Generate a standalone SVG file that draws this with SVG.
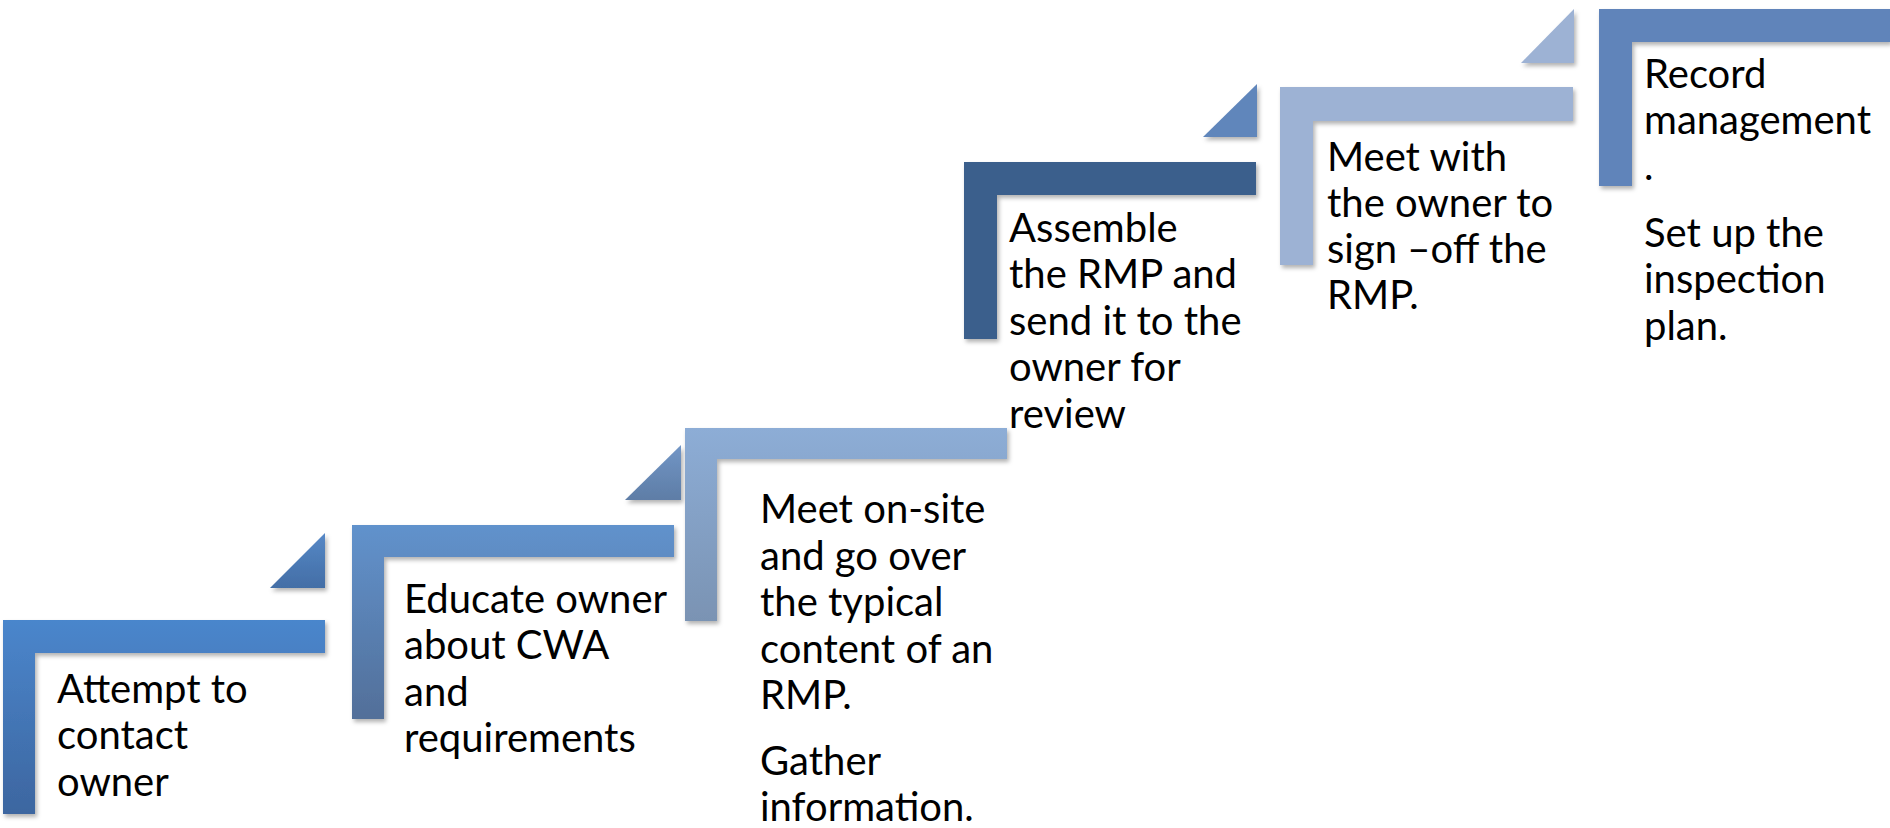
<svg xmlns="http://www.w3.org/2000/svg" width="1890" height="828" viewBox="0 0 1890 828">
<defs>
<filter id="sh" x="-10%" y="-10%" width="130%" height="130%">
<feDropShadow dx="2" dy="3" stdDeviation="2" flood-color="#000" flood-opacity="0.3"/>
</filter>
<linearGradient id="g1" x1="0" y1="0" x2="0" y2="1"><stop offset="0" stop-color="#4A86CC"/><stop offset="1" stop-color="#3D66A0"/></linearGradient>
<linearGradient id="g2" x1="0" y1="0" x2="0" y2="1"><stop offset="0" stop-color="#6192CC"/><stop offset="1" stop-color="#526F99"/></linearGradient>
<linearGradient id="g3" x1="0" y1="0" x2="0" y2="1"><stop offset="0" stop-color="#8DADD6"/><stop offset="1" stop-color="#7A93B3"/></linearGradient>
<linearGradient id="t1" x1="0" y1="0" x2="0" y2="1"><stop offset="0" stop-color="#5688C6"/><stop offset="1" stop-color="#436EA6"/></linearGradient>
<linearGradient id="t2" x1="0" y1="0" x2="0" y2="1"><stop offset="0" stop-color="#7296C6"/><stop offset="1" stop-color="#5E7DA6"/></linearGradient>
</defs>
<style>
.txt{font-family:"Lato","Liberation Sans",sans-serif;font-size:40px;fill:#000}
.shape{filter:url(#sh)}
</style>
<g id="connectors">
<polygon class="shape" points="270,588 325,533 325,588" fill="url(#t1)"/>
<polygon class="shape" points="625,500 681,445 681,500" fill="url(#t2)"/>
<polygon class="shape" points="1203,137 1257,84 1257,137" fill="#6186BB"/>
<polygon class="shape" points="1521,63 1574,9 1574,63" fill="#9DB2D4"/>
</g>
<g id="step1">
<path class="shape" d="M3,620 H325 V653 H35 V814 H3 Z" fill="url(#g1)"/>
<text class="txt"><tspan x="57" y="703">Attempt to</tspan><tspan x="57" y="749">contact</tspan><tspan x="57" y="796">owner</tspan></text>
</g>
<g id="step2">
<path class="shape" d="M352,525 H674 V557 H384 V719 H352 Z" fill="url(#g2)"/>
<text class="txt"><tspan x="404" y="613">Educate owner</tspan><tspan x="404" y="659">about CWA</tspan><tspan x="404" y="706">and</tspan><tspan x="404" y="752">requirements</tspan></text>
</g>
<g id="step3">
<path class="shape" d="M685,428 H1007 V459 H717 V621 H685 Z" fill="url(#g3)"/>
<text class="txt"><tspan x="760" y="523">Meet on-site</tspan><tspan x="760" y="570">and go over</tspan><tspan x="760" y="616">the typical</tspan><tspan x="760" y="663">content of an</tspan><tspan x="760" y="709">RMP.</tspan><tspan x="760" y="775">Gather</tspan><tspan x="760" y="821">information.</tspan></text>
</g>
<g id="step4">
<path class="shape" d="M964,162 H1256 V195 H997 V339 H964 Z" fill="#3A5F8C"/>
<text class="txt"><tspan x="1009" y="242">Assemble</tspan><tspan x="1009" y="288">the RMP and</tspan><tspan x="1009" y="335">send it to the</tspan><tspan x="1009" y="381">owner for</tspan><tspan x="1009" y="428">review</tspan></text>
</g>
<g id="step5">
<path class="shape" d="M1280,87 H1573 V121 H1313 V265 H1280 Z" fill="#9DB2D4"/>
<text class="txt"><tspan x="1327" y="171">Meet with</tspan><tspan x="1327" y="217">the owner to</tspan><tspan x="1327" y="263">sign –off the</tspan><tspan x="1327" y="309">RMP.</tspan></text>
</g>
<g id="step6">
<path class="shape" d="M1599,9 H1890 V42 H1632 V186 H1599 Z" fill="#6084BA"/>
<text class="txt"><tspan x="1644" y="88">Record</tspan><tspan x="1644" y="134">management</tspan><tspan x="1644" y="180">.</tspan><tspan x="1644" y="247">Set up the</tspan><tspan x="1644" y="293">inspection</tspan><tspan x="1644" y="340">plan.</tspan></text>
</g>
</svg>
